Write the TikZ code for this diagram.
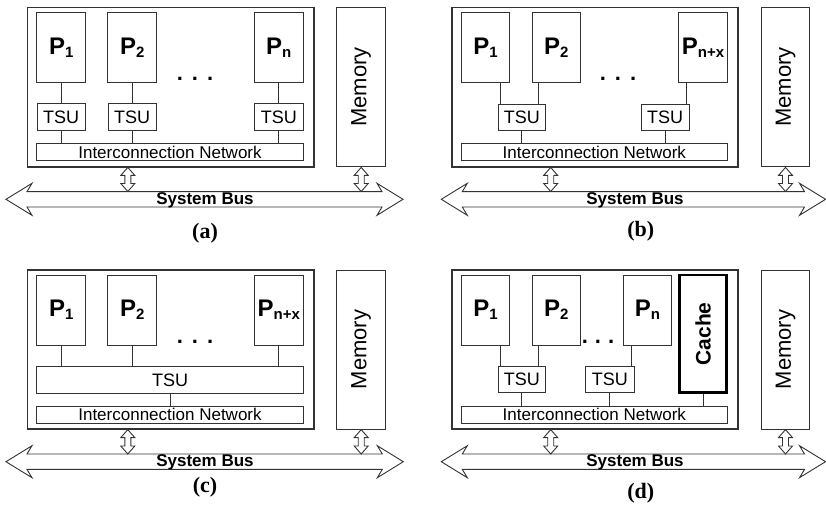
\documentclass[tikz,border=0pt]{standalone}
\usepackage{fontspec}
\setmainfont{Liberation Sans}
\newfontfamily\capfont{Liberation Serif}
\usetikzlibrary{calc}
\newcommand{\PP}[1]{{\fontsize{24}{24}\selectfont\bfseries P}\raisebox{-3pt}{\fontsize{15}{15}\selectfont\bfseries #1}}
\newcommand{\vdarr}[3]{\draw[blockarr] (#1,#2) -- ({#1+7},{#2+8}) -- ({#1+3},{#2+8}) -- ({#1+3},{#3-8}) -- ({#1+7},{#3-8}) -- (#1,#3) -- ({#1-7},{#3-8}) -- ({#1-3},{#3-8}) -- ({#1-3},{#2+8}) -- ({#1-7},{#2+8}) -- cycle;}
\newcommand{\busarr}[3]{\draw[blockarr] (#1,#3) -- ({#1+26},{#3-16}) -- ({#1+21},{#3-7.7}) -- ({#2-21},{#3-7.7}) -- ({#2-26},{#3-16}) -- (#2,#3) -- ({#2-26},{#3+16}) -- ({#2-21},{#3+7.7}) -- ({#1+21},{#3+7.7}) -- ({#1+26},{#3+16}) -- cycle;}
\begin{document}
\begin{tikzpicture}[x=1pt,y=-1pt,
  box/.style={draw=black!80, line width=0.9pt, inner sep=0pt, fill=white, font=\fontsize{18}{18}\selectfont},
  outer/.style={box, line width=1.1pt},
  pbox/.style={box, minimum width=49pt, minimum height=70pt},
  tsubox/.style={box, minimum width=48.5pt, minimum height=27pt},
  netbox/.style={box, minimum width=266.3pt, minimum height=17.5pt, font=\fontsize{17}{17}\selectfont},
  membox/.style={box, rotate=90, minimum width=159.5pt, minimum height=48.7pt, font=\fontsize{22}{22}\selectfont},
  cachebox/.style={draw=black, line width=2.6pt, inner sep=0pt, fill=white, rotate=90, minimum width=117.7pt, minimum height=46.6pt, font=\fontsize{21}{21}\selectfont\bfseries},
  conn/.style={draw=black!80, line width=0.9pt},
  blockarr/.style={draw=black!80, line width=0.9pt, fill=white, line join=miter},
  dots/.style={inner sep=0pt, font=\fontsize{22}{22}\selectfont\bfseries},
  bustext/.style={inner sep=0pt, anchor=base, font=\fontsize{17}{17}\selectfont\bfseries},
  caption/.style={inner sep=0pt, font=\capfont\bfseries\fontsize{22}{22}\selectfont}
]
\useasboundingbox (0,0) rectangle (826,511);

% ---------------- (a) ----------------
\busarr{6}{403}{199.3}
\node[bustext] (busA) at (205,204) {System Bus};
\node[outer, minimum width=286.3pt, minimum height=159.7pt] (outA) at (170.85,87.15) {};
\node[membox] (memA) at (361.2,87.15) {Memory};
\node[pbox] (a1) at (61.2,47.3) {\PP{1}};
\node[pbox] (a2) at (132.2,47.3) {\PP{2}};
\node[pbox] (an) at (278.8,47.3) {\PP{n}};
\node[tsubox] (ta1) at (61.2,117) {TSU};
\node[tsubox] (ta2) at (132.2,117) {TSU};
\node[tsubox] (tan) at (278.8,117) {TSU};
\node[netbox] (inA) at (170,152.15) {Interconnection Network};
\node[dots] (dotsA) at (195,79) {.\hspace{9pt}.\hspace{9pt}.};
\draw[conn] (a1.south) -- (ta1.north);
\draw[conn] (a2.south) -- (ta2.north);
\draw[conn] (an.south) -- (tan.north);
\draw[conn] (ta1.south) -- (ta1.south |- inA.north);
\draw[conn] (ta2.south) -- (ta2.south |- inA.north);
\draw[conn] (tan.south) -- (tan.south |- inA.north);
\vdarr{127.8}{167.4}{191.5}
\vdarr{361.2}{167.4}{191.5}
\node[caption] (capA) at (205,233) {(a)};

% ---------------- (b) ----------------
\busarr{441.3}{825.5}{199.3}
\node[bustext] (busB) at (635,204) {System Bus};
\node[outer, minimum width=286pt, minimum height=159.7pt] (outB) at (595,87.15) {};
\node[membox] (memB) at (785.5,87.15) {Memory};
\node[pbox, minimum width=48.4pt] (b1) at (485.5,47.3) {\PP{1}};
\node[pbox, minimum width=48.4pt] (b2) at (556.3,47.3) {\PP{2}};
\node[pbox, minimum width=48.6pt] (bn) at (703,47.3) {\PP{n+x}};
\node[tsubox, minimum width=47.7pt, minimum height=26.7pt] (tb1) at (521.8,117.3) {TSU};
\node[tsubox, minimum width=47.7pt, minimum height=26.7pt] (tb2) at (665.2,117.3) {TSU};
\node[netbox, minimum width=266pt] (inB) at (594.3,152.15) {Interconnection Network};
\node[dots] (dotsB) at (618,79) {.\hspace{9pt}.\hspace{9pt}.};
\draw[conn] ([xshift=15.2pt]b1.south) -- ([xshift=15.2pt]b1.south |- tb1.north);
\draw[conn] ([xshift=-17.6pt]b2.south) -- ([xshift=-17.6pt]b2.south |- tb1.north);
\draw[conn] ([xshift=-16.7pt]bn.south) -- ([xshift=-16.7pt]bn.south |- tb2.north);
\draw[conn] (tb1.south) -- (tb1.south |- inB.north);
\draw[conn] (tb2.south) -- (tb2.south |- inB.north);
\vdarr{550.7}{167.4}{191.5}
\vdarr{785.5}{167.4}{191.5}
\node[caption] (capB) at (640.7,231) {(b)};

% ---------------- (c) ----------------
\busarr{6}{403.3}{461.7}
\node[bustext] (busC) at (205,466.5) {System Bus};
\node[outer, minimum width=286.3pt, minimum height=159pt] (outC) at (170.85,349.5) {};
\node[membox, minimum width=159pt] (memC) at (361.2,349.5) {Memory};
\node[pbox] (c1) at (61.2,310) {\PP{1}};
\node[pbox] (c2) at (132.2,310) {\PP{2}};
\node[pbox] (cn) at (278.8,310) {\PP{n+x}};
\node[box, minimum width=266.6pt, minimum height=26.6pt] (tsC) at (170,380) {TSU};
\node[netbox, minimum height=17.3pt] (inC) at (170,414.65) {Interconnection Network};
\node[dots] (dotsC) at (195,342) {.\hspace{9pt}.\hspace{9pt}.};
\draw[conn] (c1.south) -- (c1.south |- tsC.north);
\draw[conn] (c2.south) -- (c2.south |- tsC.north);
\draw[conn] (cn.south) -- (cn.south |- tsC.north);
\draw[conn] (tsC.south) -- (inC.north);
\vdarr{127.8}{429.6}{454}
\vdarr{361.2}{429.6}{454}
\node[caption] (capC) at (205,487) {(c)};

% ---------------- (d) ----------------
\busarr{441.3}{825.5}{461.7}
\node[bustext] (busD) at (635,466.5) {System Bus};
\node[outer, minimum width=286pt, minimum height=159pt] (outD) at (595,349.5) {};
\node[membox, minimum width=159pt] (memD) at (785.5,349.5) {Memory};
\node[pbox, minimum width=48.4pt] (d1) at (485.5,310) {\PP{1}};
\node[pbox, minimum width=48.4pt] (d2) at (556.3,310) {\PP{2}};
\node[pbox, minimum width=47.6pt] (dn) at (647.5,310) {\PP{n}};
\node[cachebox] (cache) at (703,333.85) {Cache};
\node[tsubox, minimum width=47.7pt, minimum height=26pt] (td1) at (521.8,379.7) {TSU};
\node[tsubox, minimum width=48.3pt, minimum height=26pt] (td2) at (609.8,379.7) {TSU};
\node[netbox, minimum width=266pt, minimum height=17.3pt] (inD) at (594.3,414.65) {Interconnection Network};
\node[dots] (dotsD) at (598,341.7) {.\hspace{7pt}.\hspace{7pt}.};
\draw[conn] ([xshift=15.2pt]d1.south) -- ([xshift=15.2pt]d1.south |- td1.north);
\draw[conn] ([xshift=-17.6pt]d2.south) -- ([xshift=-17.6pt]d2.south |- td1.north);
\draw[conn] ([xshift=-16.2pt]dn.south) -- ([xshift=-16.2pt]dn.south |- td2.north);
\draw[conn] (td1.south) -- (td1.south |- inD.north);
\draw[conn] (td2.south) -- (td2.south |- inD.north);
\draw[conn] (cache.west) -- (cache.west |- inD.north);
\vdarr{550.7}{429.6}{454}
\vdarr{785.5}{429.6}{454}
\node[caption] (capD) at (640.7,493) {(d)};
\end{tikzpicture}
\end{document}
